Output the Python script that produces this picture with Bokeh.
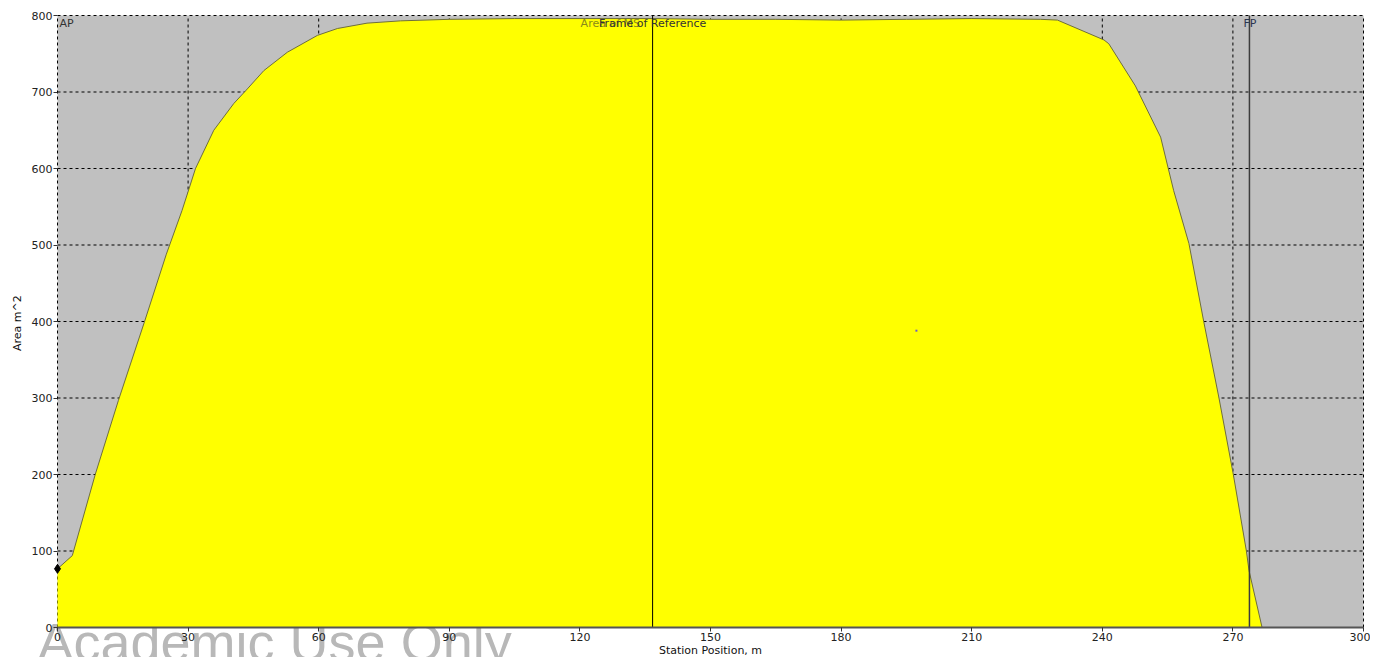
from bokeh.plotting import figure
from bokeh.models import Range1d, FixedTicker, Label, LinearAxis, BoxAnnotation
from bokeh.embed import file_html
from bokeh.resources import INLINE

# Sectional area curve data
station_m = [0, 3.4, 8.7, 14, 20, 25, 28.6, 31.7, 35.9, 40.5, 43.6, 47.4, 52.8, 59.7,
             64.3, 71.1, 78.8, 90, 105, 120, 136.7, 150, 165, 180, 195, 210, 225.8,
             229.7, 240.4, 241.5, 247.6, 253.4, 256.4, 259.9, 263.3, 266.8, 270.1,
             273.1, 273.7, 276.7]
area_m2 = [76.7, 94, 200.6, 297, 400, 488, 545, 600, 650, 685, 704, 728, 752, 774,
           783, 790, 793, 795, 796, 796, 796, 795, 795, 794, 795, 796, 795,
           794, 768, 763, 708, 641, 571, 502, 400, 300, 200,
           100, 74.5, 0]

x_ticks = [0, 30, 60, 90, 120, 150, 180, 210, 240, 270, 300]
y_ticks = [0, 100, 200, 300, 400, 500, 600, 700, 800]
x_min, x_max = 0, 300
y_min, y_max = 0, 800

ap_station = 0.0
frame_ref_station = 136.7
fp_station = 273.8
centroid = (197.3, 388.0)

FONT = "DejaVu Sans"

# canvas geometry (the frame fills the canvas; axes are drawn at fixed locations)
W, H = 1370, 657
left_px, right_px, top_px, bottom_px = 57, 1363, 15, 627
kx = (right_px - left_px) / (x_max - x_min)
ky = (bottom_px - top_px) / (y_max - y_min)
xr = Range1d(x_min - left_px / kx, x_min + (W - left_px) / kx)
yr = Range1d(y_min - (H - bottom_px) / ky, y_min + bottom_px / ky)

p = figure(width=W, height=H, output_backend="svg", toolbar_location=None,
           x_range=xr, y_range=yr, x_axis_location=None, y_axis_location=None,
           min_border=0)
p.background_fill_color = "white"
p.border_fill_color = "white"
p.outline_line_color = None
p.grid.visible = False

# gray plotting area
p.add_layout(BoxAnnotation(left=x_min, right=x_max, bottom=y_min, top=y_max,
                           fill_color="#c0c0c0", fill_alpha=1, line_color=None, level="image"))

# watermark (behind everything else)
p.add_layout(Label(x=x_min, y=y_min, x_offset=-20, y_offset=16, text="Academic Use Only",
                   text_font="Liberation Sans", text_font_size="54px", text_color="#b8b8b8",
                   text_baseline="top", level="underlay"))

# dashed grid
p.segment(x0=x_ticks, y0=[y_min] * len(x_ticks), x1=x_ticks, y1=[y_max] * len(x_ticks),
          line_color="black", line_dash="3 3", line_width=1)
p.segment(x0=[x_min] * len(y_ticks), y0=y_ticks, x1=[x_max] * len(y_ticks), y1=y_ticks,
          line_color="black", line_dash="3 3", line_width=1)

# area curve
p.varea(x=station_m, y1=0, y2=area_m2, fill_color="#ffff00")
p.line(x=station_m, y=area_m2, line_color="#6e6e3c", line_width=1)

# reference lines
p.segment(x0=[frame_ref_station], y0=[y_min], x1=[frame_ref_station], y1=[y_max],
          line_color="black", line_width=1)
p.segment(x0=[fp_station], y0=[y_min], x1=[fp_station], y1=[y_max],
          line_color="#3c3c3c", line_width=1.5)

# markers
p.scatter([station_m[0]], [area_m2[0]], marker="diamond", size=9, fill_color="black", line_color="black")
p.scatter([centroid[0]], [centroid[1]], marker="square", size=2, fill_color="#6a5acd", line_color=None)

# axes
xaxis = LinearAxis(fixed_location=y_min, bounds=(x_min, x_max), ticker=FixedTicker(ticks=x_ticks),
                   axis_label="Station Position, m")
yaxis = LinearAxis(fixed_location=x_min, bounds=(y_min, y_max), ticker=FixedTicker(ticks=y_ticks),
                   axis_label="Area  m^2")
for ax in (xaxis, yaxis):
    ax.major_label_text_font = FONT
    ax.major_label_text_font_size = "11px"
    ax.major_label_text_color = "#222222"
    ax.axis_label_text_font = FONT
    ax.axis_label_text_font_size = "11px"
    ax.axis_label_text_font_style = "normal"
    ax.axis_label_text_color = "#111111"
    ax.major_tick_in = 0
    ax.major_tick_out = 4
    ax.minor_tick_line_color = None
    ax.major_tick_line_color = "#333333"
    ax.major_label_standoff = 1
xaxis.axis_label_standoff = 0
yaxis.axis_label_standoff = 5
xaxis.axis_line_color = "#555555"
xaxis.axis_line_width = 2
yaxis.axis_line_color = None
p.add_layout(xaxis, "below")
p.add_layout(yaxis, "left")

# labels
p.add_layout(Label(x=ap_station, y=y_max, x_offset=2, y_offset=-1, text="AP", text_font=FONT,
                   text_font_size="11px", text_color="#333333", text_baseline="top"))
p.add_layout(Label(x=fp_station, y=y_max, x_offset=-6, y_offset=-1, text="FP", text_font=FONT,
                   text_font_size="11px", text_color="#2b3550", text_baseline="top"))
p.add_layout(Label(x=frame_ref_station, y=y_max, x_offset=-72, y_offset=-1, text="Area of MS",
                   text_font=FONT, text_font_size="11px", text_color="#8a8a1a", text_baseline="top"))
p.add_layout(Label(x=frame_ref_station, y=y_max, y_offset=-1, text="Frame of Reference",
                   text_font=FONT, text_font_size="11px", text_color="#333333",
                   text_baseline="top", text_align="center"))

open("out.html", "w").write(file_html(p, INLINE))
